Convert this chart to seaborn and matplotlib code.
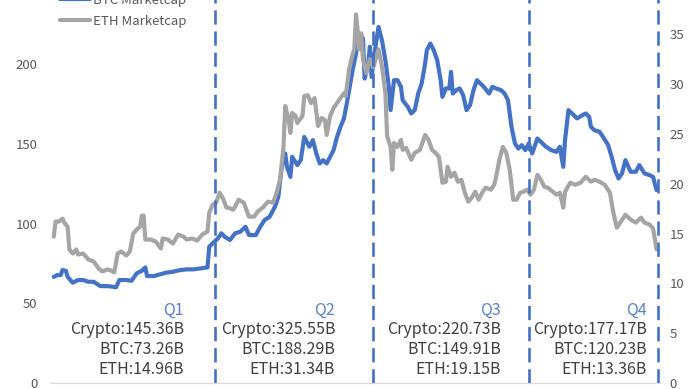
import pandas as pd
import matplotlib
matplotlib.use("Agg")
import matplotlib.pyplot as plt
import seaborn as sns

# BTC market cap (billion USD, left axis), day offset from 2019-01-01
btc_day = [1, 3, 5, 6, 8, 9, 12, 15, 18, 21, 24, 28, 32, 35, 37, 39, 43, 46, 49, 52,
           54, 55, 59, 63, 66, 70, 74, 78, 82, 86, 90, 91, 93, 96, 98, 100, 103, 106, 109, 112,
           114, 118, 120, 123, 126, 129, 131, 133, 135, 136, 138, 139, 142, 144, 146, 149, 151, 153, 155, 157,
           159, 161, 163, 165, 167, 169, 171, 173, 174, 176, 178, 180, 181, 183, 184, 185, 187, 189, 191, 193,
           195, 196, 198, 200, 202, 203, 206, 208, 210, 212, 214, 216, 217, 219, 221, 223, 225, 226, 228, 230,
           231, 232, 234, 236, 238, 240, 242, 244, 246, 248, 250, 253, 255, 257, 260, 262, 264, 266, 268, 270,
           272, 274, 276, 278, 281, 284, 286, 289, 292, 294, 296, 297, 299, 301, 304, 307, 309, 311, 312, 314,
           317, 319, 322, 324, 326, 328, 330, 332, 335, 338, 340, 343, 346, 348, 350]
btc_cap = [66.6, 67.7, 67.7, 70.8, 70.4, 66.6, 62.9, 64.6, 64.6, 63.5, 63.5, 60.8, 60.8, 60.4, 60.0, 64.6, 64.6, 64.1, 68.8, 70.4,
           72.5, 67.1, 67.1, 68.3, 69.2, 69.8, 70.8, 71.3, 71.3, 71.9, 72.5, 85.5, 87.6, 90.7, 93.9, 91.7, 89.7, 93.9, 94.9, 98.0,
           92.8, 92.8, 97.0, 102.2, 104.3, 110.5, 116.8, 135.6, 144.0, 135.6, 129.3, 141.9, 136.7, 139.8, 154.4, 148.2, 152.4, 144.0, 137.7, 139.8,
           137.7, 141.9, 146.1, 154.4, 160.7, 166.0, 177.4, 190.0, 196.2, 206.7, 219.2, 216.1, 191.0, 200.0, 211.0, 192.0, 208.8, 223.4, 215.0, 202.5,
           185.8, 171.2, 190.0, 190.0, 185.8, 177.4, 173.2, 169.1, 171.2, 181.6, 187.9, 200.4, 208.8, 213.0, 208.8, 202.5, 190.0, 179.5, 184.8, 184.8,
           195.2, 181.6, 183.7, 184.8, 180.6, 171.2, 174.3, 183.7, 190.0, 187.9, 185.8, 181.6, 185.8, 184.8, 183.7, 181.6, 177.4, 160.7, 150.3, 147.1,
           149.2, 146.1, 150.3, 144.0, 153.4, 150.3, 148.2, 146.1, 145.0, 148.2, 135.6, 152.4, 171.2, 169.1, 166.0, 168.0, 169.1, 167.0, 160.7, 158.6,
           157.6, 154.4, 149.2, 141.9, 133.5, 128.3, 131.5, 139.8, 132.5, 132.5, 136.7, 131.5, 130.4, 129.3, 121.0]

# ETH market cap (billion USD, right axis)
eth_day = [1, 2, 4, 6, 7, 9, 10, 12, 14, 15, 18, 21, 24, 27, 29, 32, 34, 36, 38, 40,
           43, 45, 47, 49, 51, 52, 53, 54, 57, 60, 63, 64, 67, 70, 73, 76, 78, 81, 84, 87,
           90, 91, 93, 95, 97, 99, 101, 102, 105, 108, 111, 114, 117, 119, 122, 125, 128, 130, 132, 134,
           135, 137, 138, 139, 141, 142, 145, 146, 148, 150, 152, 154, 156, 158, 159, 161, 163, 165, 167, 169,
           170, 172, 174, 175, 176, 178, 179, 180, 182, 184, 186, 189, 191, 193, 194, 196, 197, 198, 200, 202,
           203, 205, 208, 210, 213, 216, 218, 220, 222, 224, 226, 228, 229, 231, 233, 235, 237, 239, 241, 243,
           245, 247, 249, 251, 254, 256, 257, 259, 261, 263, 265, 267, 269, 271, 273, 275, 277, 279, 281, 283,
           285, 287, 290, 292, 294, 296, 297, 300, 303, 306, 309, 312, 314, 317, 320, 323, 325, 327, 329, 332,
           335, 338, 341, 343, 346, 348, 350]
eth_cap = [14.7, 16.2, 16.2, 16.5, 16.1, 15.7, 13.4, 13.0, 13.4, 12.9, 13.0, 12.4, 12.2, 11.5, 11.2, 11.4, 11.3, 11.1, 13.0, 13.2,
           12.8, 13.2, 15.0, 15.4, 15.7, 16.8, 16.8, 14.4, 14.4, 14.2, 13.5, 14.5, 14.4, 14.0, 14.9, 14.7, 14.4, 14.5, 14.3, 14.9,
           15.2, 17.1, 17.9, 18.1, 19.1, 18.5, 17.6, 17.6, 17.4, 18.4, 18.1, 16.7, 16.7, 17.2, 17.6, 18.2, 18.1, 19.1, 20.4, 23.7,
           27.8, 26.4, 25.1, 27.1, 26.8, 26.1, 26.8, 28.8, 28.9, 28.1, 28.6, 25.8, 26.6, 26.4, 24.9, 26.8, 27.6, 28.1, 28.6, 29.1,
           28.8, 31.5, 33.0, 33.5, 37.0, 33.5, 35.1, 32.5, 31.1, 32.5, 31.7, 33.5, 31.8, 29.1, 24.8, 23.7, 21.4, 24.1, 23.7, 24.4,
           23.4, 23.6, 22.4, 23.1, 23.4, 24.9, 24.4, 23.4, 23.1, 22.7, 20.1, 20.2, 21.7, 20.7, 21.1, 20.2, 20.4, 19.1, 18.2, 18.6,
           19.2, 18.4, 19.1, 19.6, 19.4, 19.9, 20.6, 22.4, 23.7, 23.1, 21.4, 18.4, 18.4, 19.1, 19.2, 19.4, 18.9, 19.4, 20.9, 20.4,
           19.7, 19.6, 19.2, 18.9, 19.1, 17.6, 19.2, 20.1, 19.9, 20.1, 20.7, 20.2, 20.4, 20.2, 19.9, 19.1, 17.1, 15.6, 16.1, 16.9,
           16.4, 16.1, 16.6, 16.1, 15.9, 15.5, 13.4]

quarters = ["Q1", "Q2", "Q3", "Q4"]
crypto_q = ["145.36", "325.55", "220.73", "177.17"]
btc_q = ["73.26", "188.29", "149.91", "120.23"]
eth_q = ["14.96", "31.34", "19.15", "13.36"]
quarter_end_day = [94.5, 186, 276, 350.6]

BLUE = "#4472C4"
GRAY = "#A5A5A5"
TXT = "#404040"

sns.set_style("white")
plt.rcParams["font.family"] = ["Noto Sans CJK SC", "DejaVu Sans"]

fig = plt.figure(figsize=(6.98, 3.89), dpi=100)
ax = fig.add_axes([50 / 698, 6 / 389, 610 / 698, 398.5 / 389])
ax2 = ax.twinx()

btc = pd.DataFrame({"day": btc_day, "cap": btc_cap})
eth = pd.DataFrame({"day": eth_day, "cap": eth_cap})
sns.lineplot(data=btc, x="day", y="cap", ax=ax, color=BLUE, lw=3, legend=False)
sns.lineplot(data=eth, x="day", y="cap", ax=ax2, color=GRAY, lw=3, legend=False)

for d in quarter_end_day:
    ax2.axvline(d, color=BLUE, lw=1.9, linestyle=(0, (5.4, 2.6)), zorder=5)

ax.set_xlim(-1.2, 352)
ax.set_ylim(0, 250)
ax2.set_ylim(0, 40)
ax.set_yticks(range(0, 251, 50))
ax2.set_yticks(range(0, 41, 5))
ax.set_xticks([])
for a in (ax, ax2):
    a.set_xlabel("")
    a.set_ylabel("")
    for s in a.spines.values():
        s.set_visible(False)
    a.spines["bottom"].set_visible(True)
    a.spines["bottom"].set_color("#D9D9D9")
    a.tick_params(axis="y", length=0, labelsize=9.5, labelcolor="#595959")
ax.tick_params(axis="y", pad=9)
ax2.tick_params(axis="y", pad=7)

# quarter annotations
label_right = [76.4, 163.9, 260, 344.5]
row_y = [45.8, 33.3, 20.8, 8.6]
for i, q in enumerate(quarters):
    x = label_right[i]
    ax.text(x, row_y[0], q, ha="right", va="center", fontsize=11.5, color="#5A83C6")
    ax.text(x, row_y[1], "Crypto:" + crypto_q[i] + "B", ha="right", va="center", fontsize=11.5, color=TXT)
    ax.text(x, row_y[2], "BTC:" + btc_q[i] + "B", ha="right", va="center", fontsize=11.5, color=TXT)
    ax.text(x, row_y[3], "ETH:" + eth_q[i] + "B", ha="right", va="center", fontsize=11.5, color=TXT)

handles = [plt.Line2D([], [], color=BLUE, lw=3), plt.Line2D([], [], color=GRAY, lw=3)]
fig.legend(handles, ["BTC Marketcap", "ETH Marketcap"], loc="lower left",
           bbox_to_anchor=(60 / 698, 361 / 389), bbox_transform=fig.transFigure,
           frameon=False, fontsize=9.5, handlelength=2.3, handletextpad=0.2,
           labelspacing=0.6, borderpad=0, borderaxespad=0, labelcolor="#595959")

fig.savefig("out.png", dpi=100)
